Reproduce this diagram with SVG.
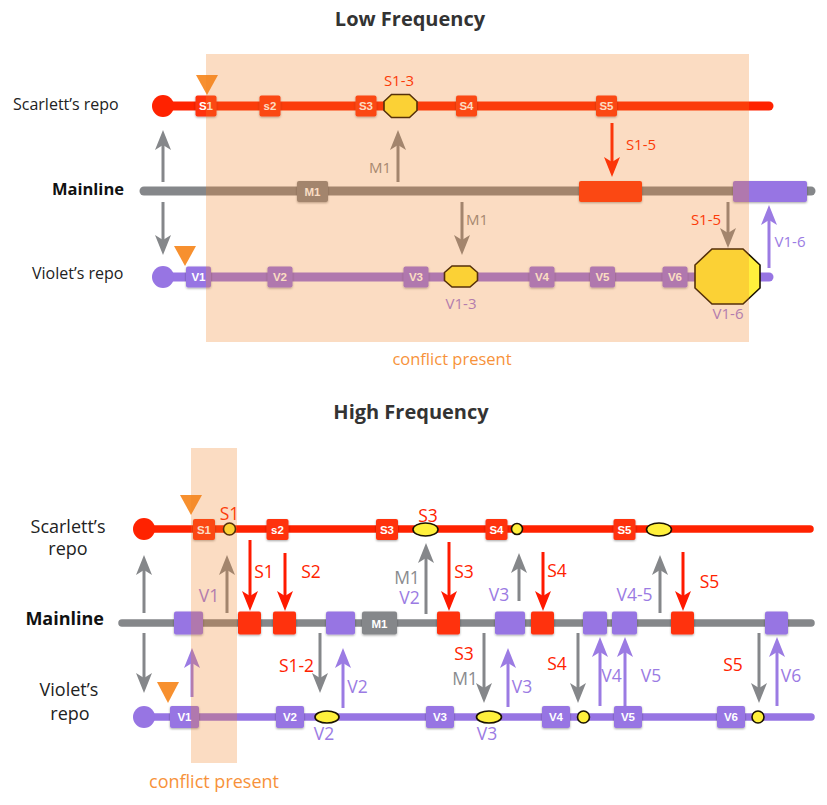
<svg xmlns="http://www.w3.org/2000/svg" width="827" height="805" viewBox="0 0 827 805">
<defs>
<style>
.t{font-family:"Open Sans","Noto Sans","Liberation Sans",sans-serif}
.title{font-size:20px;font-weight:bold;fill:#333;text-anchor:middle}
.lbl{font-size:16px;fill:#222}
.lblB{font-size:16.5px;font-weight:bold;fill:#111}
.lbl2{font-size:18px;fill:#222;text-anchor:middle}
.lbl2B{font-size:18px;font-weight:bold;fill:#111;text-anchor:end}
.al{font-size:15px;text-anchor:middle}
.al2{font-size:17.5px;text-anchor:middle}
.red{fill:#ff2200}
.pur{fill:#9b7be3}
.gry{fill:#8a8b8e}
.org{fill:#f7923a}
.cf{font-family:"Liberation Sans",Arial,sans-serif;font-weight:bold;font-size:11.5px;fill:#fff;text-anchor:middle}
.sq{filter:url(#sh)}
.cr{fill:#ff3311}
.cp{fill:#9775e3}
.cg{fill:#85878a}
.yl{fill:#fff03c;stroke:#1a1200;stroke-width:1.6}
.ln{fill:none;stroke-linecap:round}
.ar{fill:none;stroke-width:3}
.ag{stroke:#85878a;marker-end:url(#mg)}
.arr{stroke:#ff1a00;marker-end:url(#mr)}
.ap{stroke:#9b7be3;marker-end:url(#mp)}
.ov{fill:#f28225;opacity:0.28}
</style>
<filter id="sh" x="-20%" y="-20%" width="140%" height="150%">
<feDropShadow dx="0" dy="1" stdDeviation="0.8" flood-color="#000" flood-opacity="0.35"/>
</filter>
<marker id="mg" markerUnits="userSpaceOnUse" viewBox="0 0 20 16" markerWidth="20" markerHeight="16" refX="10" refY="8" orient="auto"><path d="M0,0 L20,8 L0,16 L5,8 z" fill="#85878a"/></marker>
<marker id="mr" markerUnits="userSpaceOnUse" viewBox="0 0 20 16" markerWidth="20" markerHeight="16" refX="10" refY="8" orient="auto"><path d="M0,0 L20,8 L0,16 L5,8 z" fill="#ff1a00"/></marker>
<marker id="mp" markerUnits="userSpaceOnUse" viewBox="0 0 20 16" markerWidth="20" markerHeight="16" refX="10" refY="8" orient="auto"><path d="M0,0 L20,8 L0,16 L5,8 z" fill="#9b7be3"/></marker>
</defs>
<rect width="827" height="805" fill="#fff"/>

<!-- ================= LOW FREQUENCY ================= -->
<text class="t title" x="410" y="26">Low Frequency</text>
<g id="low-labels">
<text class="t lbl" x="13" y="110">Scarlett’s repo</text>
<text class="t lblB" x="124" y="195" text-anchor="end">Mainline</text>
<text class="t lbl" x="32" y="279">Violet’s repo</text>
</g>

<g id="low-branches">
<line class="ln" x1="163" y1="106" x2="769" y2="106" stroke="#ff2200" stroke-width="9"/>
<line class="ln" x1="144" y1="191" x2="811" y2="191" stroke="#85878a" stroke-width="9"/>
<line class="ln" x1="163" y1="277" x2="769" y2="277" stroke="#9775e3" stroke-width="9"/>
<circle cx="163" cy="106" r="11" fill="#ff2200"/>
<circle cx="163" cy="277" r="11" fill="#9775e3"/>
</g>

<g id="low-connectors">
<line class="ar ag" x1="163" y1="182" x2="163" y2="140"/>
<line class="ar ag" x1="163" y1="202" x2="163" y2="245"/>
<line class="ar ag" x1="398" y1="182" x2="398" y2="140"/>
<line class="ar arr" x1="612" y1="123" x2="612" y2="167"/>
<line class="ar ag" x1="462" y1="202" x2="462" y2="245"/>
<line class="ar ag" x1="728" y1="202" x2="728" y2="238"/>
<line class="ar ap" x1="769" y1="268" x2="769" y2="215"/>
<text class="t al gry" x="380" y="173">M1</text>
<text class="t al red" x="641" y="150">S1-5</text>
<text class="t al gry" x="477" y="225">M1</text>
<text class="t al red" x="706" y="225">S1-5</text>
<text class="t al pur" x="790" y="247">V1-6</text>
</g>

<g id="low-scarlett-commits">
<g id="lS1"><rect class="sq cr" x="195.5" y="95.5" width="21" height="21" rx="2"/><text class="cf" x="206" y="110">S1</text></g>
<g id="ls2"><rect class="sq cr" x="259.5" y="95.5" width="21" height="21" rx="2"/><text class="cf" x="270" y="110">s2</text></g>
<g id="lS3"><rect class="sq cr" x="355.5" y="95.5" width="21" height="21" rx="2"/><text class="cf" x="366" y="110">S3</text></g>
<g id="lS4"><rect class="sq cr" x="456" y="95.5" width="21" height="21" rx="2"/><text class="cf" x="466.5" y="110">S4</text></g>
<g id="lS5"><rect class="sq cr" x="596" y="95.5" width="21" height="21" rx="2"/><text class="cf" x="606.5" y="110">S5</text></g>
<g id="lS13"><polygon class="yl" points="391.5,94.5 409.5,94.5 417,101.5 417,110.5 409.5,117.5 391.5,117.5 384,110.5 384,101.5"/><text class="t al red" x="399" y="86">S1-3</text></g>
</g>

<g id="low-mainline-commits">
<g id="lM1"><rect class="sq cg" x="297" y="181" width="31" height="21" rx="2"/><text class="cf" x="312.5" y="195.5" font-size="11.5">M1</text></g>
<g id="lMS"><rect class="sq cr" x="579" y="181" width="63" height="21" rx="2"/></g>
<g id="lMV"><rect class="sq cp" x="733" y="181" width="74" height="21" rx="2"/></g>
</g>

<g id="low-violet-commits">
<g id="lV1"><rect class="sq cp" x="186" y="266.5" width="25" height="21" rx="2"/><text class="cf" x="198.5" y="281">V1</text></g>
<g id="lV2"><rect class="sq cp" x="267.5" y="266.5" width="25" height="21" rx="2"/><text class="cf" x="280" y="281">V2</text></g>
<g id="lV3"><rect class="sq cp" x="403.5" y="266.5" width="25" height="21" rx="2"/><text class="cf" x="416" y="281">V3</text></g>
<g id="lV4"><rect class="sq cp" x="529.5" y="266.5" width="25" height="21" rx="2"/><text class="cf" x="542" y="281">V4</text></g>
<g id="lV5"><rect class="sq cp" x="590" y="266.5" width="25" height="21" rx="2"/><text class="cf" x="602.5" y="281">V5</text></g>
<g id="lV6"><rect class="sq cp" x="662.5" y="266.5" width="25" height="21" rx="2"/><text class="cf" x="675" y="281">V6</text></g>
<g id="lV13"><polygon class="yl" points="452,266 470,266 477.5,272.5 477.5,280.5 470,287 452,287 444.5,280.5 444.5,272.5"/><text class="t al pur" x="461" y="309">V1-3</text></g>
<g id="lV16"><polygon class="yl" points="712,249 743,249 760,265 760,288 743,304 712,304 695,288 695,265"/><text class="t al pur" x="728" y="319">V1-6</text></g>
</g>

<g id="low-markers">
<polygon points="196,75 218,75 207,95" fill="#f7902f"/>
<polygon points="174,246 196,246 185,266" fill="#f7902f"/>
</g>

<rect id="low-conflict" class="ov" x="206" y="54" width="543" height="288"/>
<text class="t org" x="452" y="365" font-size="16.5" text-anchor="middle">conflict present</text>

<!-- ================= HIGH FREQUENCY ================= -->
<text class="t title" x="411" y="419">High Frequency</text>
<g id="high-labels">
<text class="t lbl2" x="68" y="533">Scarlett’s</text>
<text class="t lbl2" x="68" y="555">repo</text>
<text class="t lbl2B" x="104" y="625">Mainline</text>
<text class="t lbl2" x="69" y="696">Violet’s</text>
<text class="t lbl2" x="70" y="720">repo</text>
</g>

<g id="high-branches">
<line class="ln" x1="144" y1="529" x2="810" y2="529" stroke="#ff2200" stroke-width="7.5"/>
<line class="ln" x1="122" y1="623" x2="811" y2="623" stroke="#85878a" stroke-width="7.5"/>
<line class="ln" x1="144" y1="717" x2="811" y2="717" stroke="#9775e3" stroke-width="7.5"/>
<circle cx="144" cy="529" r="11" fill="#ff2200"/>
<circle cx="144" cy="717" r="11" fill="#9775e3"/>
</g>

<g id="high-connectors">
<line class="ar ag" x1="144" y1="613" x2="144" y2="565"/>
<line class="ar ag" x1="227" y1="613" x2="227" y2="565"/>
<line class="ar arr" x1="250" y1="540" x2="250" y2="601"/>
<line class="ar arr" x1="285" y1="553" x2="285" y2="601"/>
<line class="ar ag" x1="426" y1="614" x2="426" y2="553"/>
<line class="ar arr" x1="449" y1="542" x2="449" y2="601"/>
<line class="ar ag" x1="519" y1="601" x2="519" y2="563"/>
<line class="ar arr" x1="543" y1="552" x2="543" y2="601"/>
<line class="ar ag" x1="660" y1="613" x2="660" y2="565"/>
<line class="ar arr" x1="683" y1="552" x2="683" y2="601"/>
<line class="ar ag" x1="144" y1="633" x2="144" y2="683"/>
<line class="ar ap" x1="192" y1="697" x2="192" y2="658"/>
<line class="ar ag" x1="320" y1="633" x2="320" y2="683"/>
<line class="ar ap" x1="343" y1="708" x2="343" y2="658"/>
<line class="ar ag" x1="484" y1="633" x2="484" y2="693"/>
<line class="ar ap" x1="508" y1="707" x2="508" y2="658"/>
<line class="ar ag" x1="578" y1="633" x2="578" y2="693"/>
<line class="ar ap" x1="600" y1="706" x2="600" y2="647"/>
<line class="ar ap" x1="625" y1="706" x2="625" y2="647"/>
<line class="ar ag" x1="759" y1="633" x2="759" y2="693"/>
<line class="ar ap" x1="777" y1="706" x2="777" y2="647"/>
<text class="t al2 pur" x="209" y="602">V1</text>
<text class="t al2 red" x="264" y="578">S1</text>
<text class="t al2 red" x="311" y="578">S2</text>
<text class="t al2 gry" x="407" y="583.5">M1</text>
<text class="t al2 pur" x="409.5" y="603.5">V2</text>
<text class="t al2 red" x="464" y="578">S3</text>
<text class="t al2 pur" x="499" y="601">V3</text>
<text class="t al2 red" x="557" y="577">S4</text>
<text class="t al2 pur" x="634.5" y="601">V4-5</text>
<text class="t al2 red" x="709.5" y="588">S5</text>
<text class="t al2 red" x="296.5" y="672">S1-2</text>
<text class="t al2 pur" x="357.5" y="693">V2</text>
<text class="t al2 red" x="464" y="660">S3</text>
<text class="t al2 gry" x="465" y="685">M1</text>
<text class="t al2 pur" x="522" y="693">V3</text>
<text class="t al2 red" x="557" y="670">S4</text>
<text class="t al2 pur" x="611.5" y="682">V4</text>
<text class="t al2 pur" x="651" y="682">V5</text>
<text class="t al2 red" x="733" y="671">S5</text>
<text class="t al2 pur" x="791" y="682">V6</text>
</g>

<g id="high-scarlett-commits">
<g id="hS1"><rect class="sq cr" x="193" y="519" width="22" height="21" rx="2"/><text class="cf" x="204" y="533.5">S1</text></g>
<g id="hs2"><rect class="sq cr" x="266.5" y="519" width="22" height="21" rx="2"/><text class="cf" x="277.5" y="533.5">s2</text></g>
<g id="hS3"><rect class="sq cr" x="376" y="519" width="22" height="21" rx="2"/><text class="cf" x="387" y="533.5">S3</text></g>
<g id="hS4"><rect class="sq cr" x="485.5" y="519" width="22" height="21" rx="2"/><text class="cf" x="496.5" y="533.5">S4</text></g>
<g id="hS5"><rect class="sq cr" x="613.5" y="519" width="22" height="21" rx="2"/><text class="cf" x="624.5" y="533.5">S5</text></g>
<g id="hmS1"><circle class="yl" cx="229.5" cy="529" r="6"/><text class="t al2 red" x="229.5" y="520">S1</text></g>
<g id="hmS3"><ellipse class="yl" cx="425.5" cy="529.5" rx="12.5" ry="6.5"/><text class="t al2 red" x="428" y="521.5">S3</text></g>
<g id="hmS4"><circle class="yl" cx="517" cy="529" r="5.5"/></g>
<g id="hmS5"><ellipse class="yl" cx="659" cy="529.5" rx="12.5" ry="6.5"/></g>
</g>

<g id="high-mainline-commits">
<rect class="sq cp" x="174" y="611.5" width="29" height="23" rx="2"/>
<rect class="sq cr" x="238" y="611.5" width="23" height="23" rx="2"/>
<rect class="sq cr" x="273" y="611.5" width="23" height="23" rx="2"/>
<rect class="sq cp" x="326" y="611.5" width="29" height="23" rx="2"/>
<g id="hM1"><rect class="sq cg" x="362" y="611.5" width="35" height="23" rx="2"/><text class="cf" x="379.5" y="628" font-size="13">M1</text></g>
<rect class="sq cr" x="437" y="611.5" width="23" height="23" rx="2"/>
<rect class="sq cp" x="495" y="611.5" width="30" height="23" rx="2"/>
<rect class="sq cr" x="531" y="611.5" width="23" height="23" rx="2"/>
<rect class="sq cp" x="583" y="611.5" width="24" height="23" rx="2"/>
<rect class="sq cp" x="612" y="611.5" width="25" height="23" rx="2"/>
<rect class="sq cr" x="671" y="611.5" width="23" height="23" rx="2"/>
<rect class="sq cp" x="765" y="611.5" width="23" height="23" rx="2"/>
</g>

<g id="high-violet-commits">
<g id="hV1"><rect class="sq cp" x="170" y="706" width="29" height="22" rx="2"/><text class="cf" x="184.5" y="721">V1</text></g>
<g id="hV2"><rect class="sq cp" x="276" y="706" width="28" height="22" rx="2"/><text class="cf" x="290" y="721">V2</text></g>
<g id="hV3"><rect class="sq cp" x="426" y="706" width="28" height="22" rx="2"/><text class="cf" x="440" y="721">V3</text></g>
<g id="hV4"><rect class="sq cp" x="542" y="706" width="28" height="22" rx="2"/><text class="cf" x="556" y="721">V4</text></g>
<g id="hV5"><rect class="sq cp" x="614" y="706" width="28" height="22" rx="2"/><text class="cf" x="628" y="721">V5</text></g>
<g id="hV6"><rect class="sq cp" x="717" y="706" width="28" height="22" rx="2"/><text class="cf" x="731" y="721">V6</text></g>
<g id="hmV2"><ellipse class="yl" cx="327" cy="717" rx="12" ry="6"/><text class="t al2 pur" x="324" y="740">V2</text></g>
<g id="hmV3"><ellipse class="yl" cx="489" cy="717" rx="12.5" ry="6"/><text class="t al2 pur" x="487" y="740">V3</text></g>
<g id="hmV4"><circle class="yl" cx="583.5" cy="717" r="6"/></g>
<g id="hmV6"><circle class="yl" cx="758" cy="717" r="6"/></g>
</g>

<g id="high-markers">
<polygon points="180,495 202,495 191,515" fill="#f7902f"/>
<polygon points="157,682 179,682 168,703" fill="#f7902f"/>
</g>

<rect id="high-conflict" class="ov" x="191" y="448" width="46" height="315"/>
<text class="t org" x="214" y="788" font-size="18" text-anchor="middle">conflict present</text>
</svg>
